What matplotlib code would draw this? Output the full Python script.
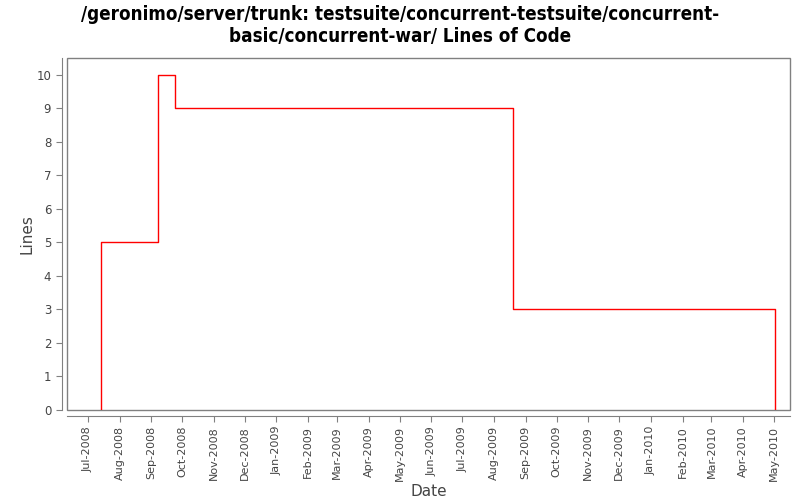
import matplotlib
matplotlib.use("Agg")
import matplotlib.pyplot as plt
import matplotlib.dates as mdates
from matplotlib.patches import Rectangle
import datetime as dt

dates = ["2008-07-14", "2008-07-14", "2008-09-08", "2008-09-24", "2009-08-20", "2010-05-02"]
lines = [0, 5, 10, 9, 3, 0]
title = "/geronimo/server/trunk: testsuite/concurrent-testsuite/concurrent-\nbasic/concurrent-war/ Lines of Code"

x = [dt.datetime.strptime(d, "%Y-%m-%d") for d in dates]

fig = plt.figure(figsize=(8, 5), dpi=100)
ax = fig.add_axes([0.084, 0.18, 0.904, 0.704])
ax.step(x, lines, where="post", color="red", linewidth=1)

ax.set_xlim(dt.datetime(2008, 6, 11), dt.datetime(2010, 5, 17))
ax.set_ylim(0, 10.5)
ax.set_yticks(range(0, 11))
ax.xaxis.set_major_locator(mdates.MonthLocator())
ax.xaxis.set_major_formatter(mdates.DateFormatter("%b-%Y"))
ax.tick_params(axis="x", labelrotation=90)

gray = "#808080"
for s in ["top", "right"]:
    ax.spines[s].set_visible(False)
ax.spines["left"].set_position(("outward", 4))
ax.spines["bottom"].set_position(("outward", 4))
ax.spines["left"].set_color(gray)
ax.spines["bottom"].set_color(gray)
ax.add_patch(Rectangle((0, 0), 1, 1, transform=ax.transAxes, fill=False,
                       edgecolor=gray, linewidth=1, clip_on=False))
ax.tick_params(axis="both", colors=gray, labelcolor="#444444", length=4)
ax.tick_params(axis="x", labelsize=8)
ax.tick_params(axis="y", labelsize=8.5)

ax.set_xlabel("Date", fontsize=11, color="#444444", labelpad=2)
ax.set_ylabel("Lines", fontsize=11, color="#444444", labelpad=1)
fig.suptitle(title, fontsize=13.5, fontweight="bold", family="DejaVu Sans", fontstretch="condensed",
             y=0.99, linespacing=1.2)

fig.savefig("out.png", dpi=100)
